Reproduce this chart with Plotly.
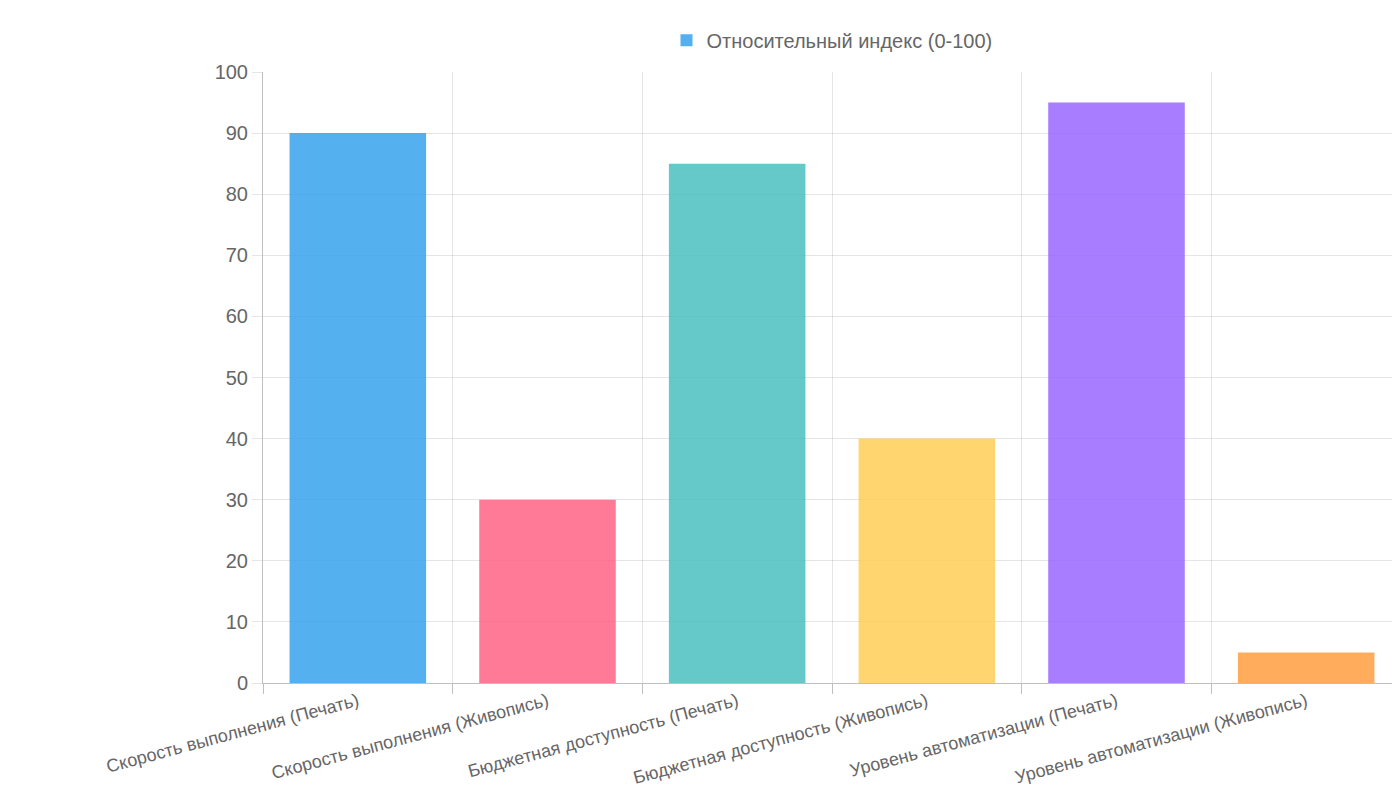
import plotly.graph_objects as go

categories = [
    "Скорость выполнения (Печать)",
    "Скорость выполнения (Живопись)",
    "Бюджетная доступность (Печать)",
    "Бюджетная доступность (Живопись)",
    "Уровень автоматизации (Печать)",
    "Уровень автоматизации (Живопись)",
]
values = [90, 30, 85, 40, 95, 5]
colors = [
    "rgba(54,162,235,0.85)",
    "rgba(255,99,132,0.85)",
    "rgba(75,192,192,0.85)",
    "rgba(255,206,86,0.85)",
    "rgba(153,102,255,0.85)",
    "rgba(255,159,64,0.85)",
]

fig = go.Figure()
fig.add_trace(go.Bar(
    x=categories, y=values, name="Относительный индекс (0-100)",
    marker=dict(color=colors, line=dict(width=0)),
))

fig.update_layout(
    width=1400, height=800,
    paper_bgcolor="white", plot_bgcolor="white",
    font=dict(family="Liberation Sans, Arial, sans-serif", color="#666", size=18),
    margin=dict(l=255, r=7, t=64, b=125),
    bargap=0.28,
    showlegend=True,
    legend=dict(orientation="h", x=0.5, xanchor="center", y=1.02, yanchor="bottom",
                font=dict(size=20)),
    xaxis=dict(tickangle=-15, tickson="boundaries", showgrid=True,
               gridcolor="rgba(0,0,0,0.1)", showline=True, linecolor="rgba(0,0,0,0.25)",
               ticks="outside", ticklen=10, tickcolor="rgba(0,0,0,0.25)",
               tickfont=dict(size=18)),
    yaxis=dict(range=[0, 100], dtick=10, gridcolor="rgba(0,0,0,0.1)",
               showline=True, linecolor="rgba(0,0,0,0.25)", zeroline=False,
               ticks="outside", ticklen=10, tickcolor="rgba(0,0,0,0.1)",
               tickfont=dict(size=20)),
)

fig.write_html("out.html")
